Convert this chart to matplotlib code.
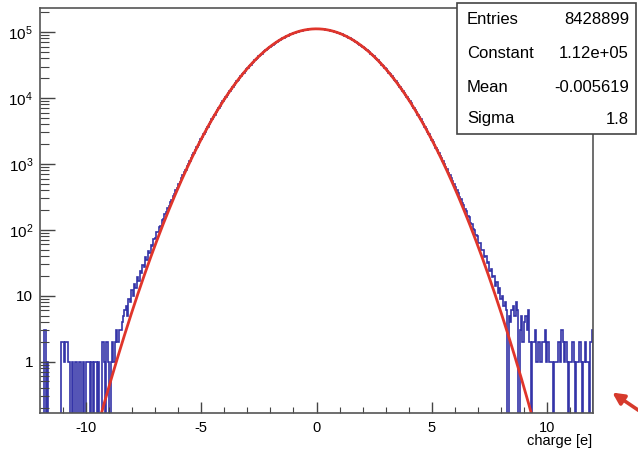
import numpy as np
import matplotlib
matplotlib.use('Agg')
import matplotlib.pyplot as plt
from matplotlib.patches import Rectangle, FancyArrowPatch
from matplotlib.ticker import LogLocator, NullFormatter

plt.rcParams['font.family'] = ['Liberation Sans', 'DejaVu Sans']
plt.rcParams['axes.unicode_minus'] = False
plt.rcParams['mathtext.fontset'] = 'custom'
plt.rcParams['mathtext.rm'] = 'Liberation Sans'

# Histogramm: 400 Bins von -12 bis 12 (Breite 0.06)
x_min, x_max, n_bins = -12.0, 12.0, 400

counts_left_tail = [0, 0, 0, 3, 0, 1, 0, 0, 0, 0, 0, 0, 0, 0, 0, 2, 2, 1, 2, 2,
                    1, 1, 0, 1, 0, 1, 1, 0, 1, 1, 0, 1, 0, 1, 1, 1, 0, 1, 0, 1,
                    1, 0, 1, 0, 0, 2, 1, 0, 2, 1, 0, 1, 2, 1, 2, 3, 2, 3, 3, 4,
                    5, 6]
counts_left_core = [7, 5, 9, 8, 12, 10, 15, 13, 19, 17,
                    24, 22, 29, 27, 38, 35, 47, 45, 58, 57,
                    72, 74, 91, 92, 112, 116, 139, 146, 173, 183,
                    216, 229, 268, 285, 331, 352, 407, 436, 500, 540,
                    614, 667, 752, 818, 917, 999, 1112, 1214, 1349, 1473,
                    1630, 1779, 1962, 2139, 2352, 2563, 2801, 3057, 3349, 3648,
                    3986, 4333, 4725, 5126, 5575, 6035, 6547, 7076, 7658, 8259,
                    8915, 9596, 10330, 11104, 11922, 12787, 13699, 14659, 15669, 16731,
                    17845, 19012, 20232, 21507, 22837, 24222, 25663, 27159, 28711, 30317,
                    31978, 33693, 35460, 37278, 39146, 41062, 43023, 45028, 47074, 49159,
                    51279, 53431, 55611, 57816, 60042, 62284, 64539, 66801, 69066, 71327,
                    73580, 75820, 78043, 80241, 82410, 84543, 86634, 88680, 90672, 92607,
                    94478, 96280, 98007, 99653, 101216, 102688, 104067, 105346, 106524, 107594,
                    108554, 109402, 110133, 110747, 111240, 111612, 111860, 111984]
counts_right_core = [111950, 111890, 111580, 111270, 110700, 110170, 109360, 108590,
                     107550, 106560, 105300, 104100, 102650, 101250, 99610, 98040, 96240, 94510,
                     92570, 90700, 88640, 86660, 84500, 82440, 80200, 78070, 75780, 73610,
                     71290, 69090, 66770, 64560, 62250, 60060, 57790, 55630, 53400, 51300,
                     49130, 47090, 45000, 43040, 41040, 39160, 37260, 35470, 33680, 31990,
                     30300, 28720, 27140, 25670, 24210, 22840, 21490, 20240, 19000, 17850,
                     16720, 15670, 14650, 13700, 12780, 11920, 11100, 10340, 9590, 8915,
                     8255, 7660, 7075, 6550, 6030, 5575, 5125, 4725, 4335, 3980,
                     3655, 3340, 3065, 2795,
                     2571, 2344, 2150, 1951, 1768, 1615, 1465, 1336, 1227, 1102,
                     1010, 905, 829, 738, 676, 603, 551, 489, 447, 395,
                     363, 318, 294, 256, 238, 205, 192, 163, 155, 129,
                     124, 102, 98, 82, 80, 64, 63, 50, 49, 39,
                     40, 31, 32, 24, 25, 19, 20, 14, 16, 11,
                     13, 9, 10, 7, 8, 6]
counts_right_tail = [0, 5, 4, 6, 7, 5, 8, 6, 0, 3, 5, 2, 4, 5, 3, 6, 2, 0,
                     2, 2, 3, 1, 2, 2, 1, 2, 2, 3,
                     1, 2, 1, 1, 1, 0, 1, 1, 1, 2, 1, 3,
                     2, 1, 2, 1, 0, 1, 1, 2, 1, 0, 1, 1, 2,
                     1, 0, 1, 2, 1, 1, 0, 2, 3]

# Fit-Parameter aus der Statistik-Box
fit_constant = 1.12e5
fit_mean = -0.005619
fit_sigma = 1.8

stat_names = ['Entries', 'Constant', 'Mean', 'Sigma']
stat_values = ['8428899', '1.12e+05', '-0.005619', '1.8']

x_ticks = [-10, -5, 0, 5, 10]
x_ticklabels = ['-10', '-5', '0', '5', '10']
y_ticks = [1, 10, 1e2, 1e3, 1e4, 1e5]
y_ticklabels = ['1', '10', r'$\mathregular{10^{2}}$', r'$\mathregular{10^{3}}$',
                r'$\mathregular{10^{4}}$', r'$\mathregular{10^{5}}$']

W, H = 638, 455
fig = plt.figure(figsize=(W / 100, H / 100), dpi=100)
ax = fig.add_axes([40 / W, 1 - 413 / H, (593 - 40) / W, (413 - 8) / H])

counts = np.array(counts_left_tail + counts_left_core + counts_right_core + counts_right_tail, float)
edges = np.linspace(x_min, x_max, n_bins + 1)
# leere Bins im Log-Plot bis zum unteren Rand ziehen
plot_counts = np.where(counts > 0, counts, 1e-3)
ax.stairs(plot_counts, edges, color='#3434a8', lw=1.2)

# Gauss-Fit
xf = np.linspace(x_min, x_max, 1500)
yf = fit_constant * np.exp(-0.5 * ((xf - fit_mean) / fit_sigma) ** 2)
ax.plot(xf, yf, color='#e0352b', lw=2.0)

ax.set_yscale('log')
ax.set_xlim(x_min, x_max)
ax.set_ylim(0.166, 2.32e5)

ax.set_xticks(x_ticks, x_ticklabels, fontsize=10.5)
ax.set_xticks(np.arange(-11, 12, 1), minor=True)
ax.set_yticks(y_ticks, y_ticklabels, fontsize=11)
ax.yaxis.set_minor_locator(LogLocator(base=10, subs=np.arange(2, 10) * 1.0, numticks=30))
ax.yaxis.set_minor_formatter(NullFormatter())
ax.tick_params(direction='in', which='both', top=False, right=False, color='#444444')
ax.tick_params(axis='x', which='major', length=8, width=1.0, pad=6)
ax.tick_params(axis='x', which='minor', length=4.3, width=0.8)
ax.tick_params(axis='y', which='major', length=11, width=1.0, pad=5)
ax.tick_params(axis='y', which='minor', length=6.5, width=0.8)
for s in ax.spines.values():
    s.set_color('#555555')
    s.set_linewidth(1.2)

fig.text(592 / W, 1 - 441 / H, 'charge [e]', ha='right', va='center', fontsize=10.5)

# Statistik-Box oben rechts
box = Rectangle((457 / W, 1 - 134 / H), (636 - 457) / W, (134 - 3) / H,
                transform=fig.transFigure, facecolor='white', edgecolor='#444444',
                lw=1.2, zorder=5)
fig.add_artist(box)
row_y = [20, 53, 87, 119]
for name, val, y in zip(stat_names, stat_values, row_y):
    fig.text(467 / W, 1 - y / H, name, ha='left', va='center', fontsize=12, zorder=6)
    fig.text(629 / W, 1 - y / H, val, ha='right', va='center', fontsize=12, zorder=6)

# roter Pfeil unten rechts
arrow = FancyArrowPatch((641 / W, 1 - 412 / H), (610 / W, 1 - 391 / H),
                        transform=fig.transFigure, arrowstyle='-|>', mutation_scale=17,
                        color='#d63a2c', lw=2.6, zorder=7)
fig.add_artist(arrow)

fig.savefig('out.png', dpi=100)
plt.close(fig)
